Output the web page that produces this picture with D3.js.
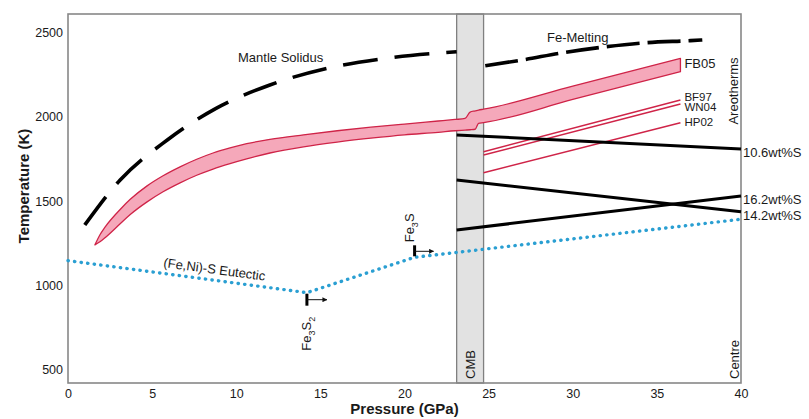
<!DOCTYPE html>
<html><head><meta charset="utf-8">
<script src="https://cdn.jsdelivr.net/npm/d3@7"></script>
<style>body{margin:0;background:#fff}svg{display:block}text{font-family:"Liberation Sans",Arial,Helvetica,sans-serif;fill:#1a1a1a}</style>
</head><body><svg id="c" width="809" height="419"></svg>
<script>
// ---------- data ----------
const xTicks = [0, 5, 10, 15, 20, 25, 30, 35, 40];
const yTicks = [500, 1000, 1500, 2000, 2500];
const cmbRange = [23.1, 24.7];

const solidusP = [1.0, 3.1, 5.9, 8.8, 12.0, 15.4, 18.9, 23.1];
const solidusT = [1358, 1625, 1862, 2050, 2189, 2288, 2347, 2386];

const feMeltP = [24.8, 27.0, 29.4, 32.0, 34.4, 37.0, 37.7];
const feMeltT = [2303, 2337, 2380, 2416, 2440, 2452, 2456];

const bandP     = [1.6, 1.9, 2.2, 3.1, 3.7, 4.7, 5.65, 6.66, 7.65, 8.62, 9.63, 10.62, 12, 14, 16, 18, 20, 22, 23, 23.6, 23.9, 24.2, 24.4, 24.7, 30, 36.4];
const bandUpper = [1240, 1300, 1345, 1450, 1510, 1590, 1650, 1703, 1748, 1785, 1815, 1840, 1866, 1893, 1917, 1938, 1957, 1975, 1984, 1990, 2028, 2035, 2040, 2045, 2182, 2347];
const bandLower = [1240, 1258, 1282, 1365, 1420, 1495, 1555, 1608, 1653, 1690, 1722, 1750, 1785, 1822, 1850, 1873, 1893, 1908, 1917, 1921, 1923, 1926, 1961, 1965, 2103, 2268];

const areoNames = ["BF97", "WN04", "HP02"];
const areoP = [24.7, 36.4];
const areoStartT = [1793, 1773, 1668];
const areoEndT = [2100, 2076, 1965];

const sulfurNames = ["10.6wt%S", "14.2wt%S", "16.2wt%S"];
const sulfurP = [23.1, 40];
const sulfurStartT = [1892, 1625, 1328];
const sulfurEndT = [1809, 1437, 1530];

const eutecticP = [0, 14.2, 20.6, 40];
const eutecticT = [1146, 956, 1166, 1392];

// ---------- chart ----------
const svg = d3.select("#c");
const x = d3.scaleLinear().domain([0, 40]).range([68, 741]);
const y = d3.scaleLinear().domain([420, 2610]).range([383, 14]);
const X0 = x.range()[0], X1 = x.range()[1], Y0 = y.range()[0], Y1 = y.range()[1];

svg.append("defs").append("marker").attr("id", "arr")
  .attr("viewBox", "0 0 10 10").attr("refX", 9).attr("refY", 5)
  .attr("markerWidth", 5).attr("markerHeight", 5).attr("orient", "auto")
  .append("path").attr("d", "M0,0L10,5L0,10z").attr("fill", "#111");

// CMB band
svg.append("rect").attr("x", x(cmbRange[0])).attr("y", Y1)
  .attr("width", x(cmbRange[1]) - x(cmbRange[0])).attr("height", Y0 - Y1)
  .attr("fill", "#e2e2e2").attr("stroke", "#808080").attr("stroke-width", 1.3);

// Frame
svg.append("rect").attr("x", X0).attr("y", Y1).attr("width", X1 - X0).attr("height", Y0 - Y1)
  .attr("fill", "none").attr("stroke", "#888").attr("stroke-width", 1.6);

// axes (labels only)
const xAxis = svg.append("g").attr("transform", `translate(0,${Y0})`)
  .call(d3.axisBottom(x).tickValues(xTicks).tickFormat(d3.format("d")).tickSize(0).tickPadding(6));
const yAxis = svg.append("g").attr("transform", `translate(${X0},0)`)
  .call(d3.axisLeft(y).tickValues(yTicks).tickFormat(d3.format("d")).tickSize(0).tickPadding(5));
[xAxis, yAxis].forEach(g => {
  g.select(".domain").remove();
  g.selectAll("text").attr("font-size", 12.5).attr("fill", "#444")
   .attr("font-family", "'Liberation Sans',Arial,sans-serif");
});

svg.append("text").attr("x", (X0 + X1) / 2).attr("y", 414).attr("text-anchor", "middle")
  .attr("font-size", 15).attr("font-weight", "bold").text("Pressure (GPa)");
svg.append("text").attr("transform", "translate(29,186) rotate(-90)").attr("text-anchor", "middle")
  .attr("font-size", 15).attr("font-weight", "bold").text("Temperature (K)");

// Eutectic dotted
const eut = eutecticP.map((p, i) => [p, eutecticT[i]]);
svg.append("path").attr("d", d3.line().x(d => x(d[0])).y(d => y(d[1]))(eut))
  .attr("fill", "none").attr("stroke", "#2a9fd2").attr("stroke-width", 3.4)
  .attr("stroke-linecap", "round").attr("stroke-dasharray", "0.3 6.3");

// Pink band (mantle areotherm + FB05)
const band = bandP.map((p, i) => ({p, u: bandUpper[i], l: bandLower[i]}));
svg.append("path").attr("d", d3.area().x(d => x(d.p)).y0(d => y(d.l)).y1(d => y(d.u))
    .curve(d3.curveMonotoneX)(band))
  .attr("fill", "#f5a8ba").attr("stroke", "#cf2448").attr("stroke-width", 1.3)
  .attr("stroke-linejoin", "round");

// Other areotherms
areoNames.forEach((n, i) => {
  svg.append("line").attr("x1", x(areoP[0])).attr("y1", y(areoStartT[i]))
    .attr("x2", x(areoP[1])).attr("y2", y(areoEndT[i]))
    .attr("stroke", "#cf2448").attr("stroke-width", 1.5);
});

// Sulfur compositions (black)
sulfurNames.forEach((n, i) => {
  svg.append("line").attr("x1", x(sulfurP[0])).attr("y1", y(sulfurStartT[i]))
    .attr("x2", x(sulfurP[1])).attr("y2", y(sulfurEndT[i]))
    .attr("stroke", "#000").attr("stroke-width", 3);
});

// Mantle solidus dashed
const sol = solidusP.map((p, i) => [p, solidusT[i]]);
svg.append("path").attr("d", d3.line().x(d => x(d[0])).y(d => y(d[1])).curve(d3.curveMonotoneX)(sol))
  .attr("fill", "none").attr("stroke", "#000").attr("stroke-width", 3.6)
  .attr("stroke-dasharray", "35 17");

// Fe melting dashed
const fem = feMeltP.map((p, i) => [p, feMeltT[i]]);
svg.append("path").attr("d", d3.line().x(d => x(d[0])).y(d => y(d[1])).curve(d3.curveMonotoneX)(fem))
  .attr("fill", "none").attr("stroke", "#000").attr("stroke-width", 3.6)
  .attr("stroke-dasharray", "33 8");

// Labels
svg.append("text").attr("x", 238).attr("y", 62).attr("font-size", 13).text("Mantle Solidus");
svg.append("text").attr("x", 547).attr("y", 42).attr("font-size", 13).text("Fe-Melting");
const bandEnd = band[band.length - 1];
svg.append("text").attr("x", x(bandEnd.p) + 4).attr("y", (y(bandEnd.u) + y(bandEnd.l)) / 2 + 3)
  .attr("font-size", 13).text("FB05");
const areoDy = [1, 7.5, 3];
areoNames.forEach((n, i) => {
  svg.append("text").attr("x", x(areoP[1]) + 4).attr("y", y(areoEndT[i]) + areoDy[i])
    .attr("font-size", 11.5).text(n);
});
svg.append("text").attr("transform", `translate(738,91) rotate(-90)`).attr("text-anchor", "middle")
  .attr("font-size", 13).text("Areotherms");
sulfurNames.forEach((n, i) => {
  svg.append("text").attr("x", X1 + 2).attr("y", y(sulfurEndT[i]) + 8)
    .attr("font-size", 13).text(n);
});
svg.append("text").attr("transform", `translate(${(x(cmbRange[0]) + x(cmbRange[1])) / 2 + 5},379) rotate(-90)`)
  .attr("font-size", 13).text("CMB");
svg.append("text").attr("transform", `translate(${X1 - 2},379) rotate(-90)`)
  .attr("font-size", 13).text("Centre");

// Eutectic label
const ang = Math.atan2(y(eutecticT[1]) - y(eutecticT[0]), x(eutecticP[1]) - x(eutecticP[0])) * 180 / Math.PI;
svg.append("text").attr("transform", `translate(163,267) rotate(${ang})`)
  .attr("font-size", 13).text("(Fe,Ni)-S Eutectic");

// Fe3S2 marker
const m1x = x(eutecticP[1]), m1y = y(eutecticT[1]);
svg.append("line").attr("x1", m1x).attr("y1", m1y + 1).attr("x2", m1x).attr("y2", m1y + 13)
  .attr("stroke", "#000").attr("stroke-width", 3);
svg.append("line").attr("x1", m1x).attr("y1", m1y + 7).attr("x2", m1x + 20).attr("y2", m1y + 7)
  .attr("stroke", "#111").attr("stroke-width", 1).attr("marker-end", "url(#arr)");
const t1 = svg.append("text").attr("transform", `translate(${m1x + 4},${m1y + 58}) rotate(-90)`).attr("font-size", 13);
t1.append("tspan").text("Fe");
t1.append("tspan").attr("font-size", 9).attr("dy", 4).text("3");
t1.append("tspan").attr("dy", -4).text("S");
t1.append("tspan").attr("font-size", 9).attr("dy", 4).text("2");

// Fe3S marker
const m2x = x(eutecticP[2]), m2y = y(eutecticT[2]);
svg.append("line").attr("x1", m2x).attr("y1", m2y - 1).attr("x2", m2x).attr("y2", m2y - 12)
  .attr("stroke", "#000").attr("stroke-width", 3);
svg.append("line").attr("x1", m2x).attr("y1", m2y - 6).attr("x2", m2x + 19).attr("y2", m2y - 6)
  .attr("stroke", "#111").attr("stroke-width", 1).attr("marker-end", "url(#arr)");
const t2 = svg.append("text").attr("transform", `translate(${m2x - 1},${m2y - 15}) rotate(-90)`).attr("font-size", 13);
t2.append("tspan").text("Fe");
t2.append("tspan").attr("font-size", 9).attr("dy", 4).text("3");
t2.append("tspan").attr("dy", -4).text("S");
</script></body></html>
